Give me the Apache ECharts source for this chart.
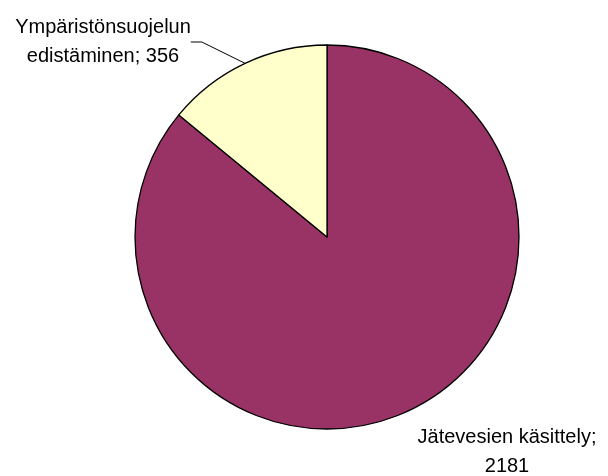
<!DOCTYPE html>
<html>
<head>
<meta charset="utf-8">
<script src="https://cdn.jsdelivr.net/npm/echarts@6/dist/echarts.min.js"></script>
<style>
  html, body { margin: 0; padding: 0; background: #fff; }
  #piechart { width: 608px; height: 476px; }
</style>
</head>
<body>
<div id="piechart"></div>
<script>
  var categories = ['Jätevesien käsittely', 'Ympäristönsuojelun\nedistäminen'];
  var values = [2181, 356];
  var pieColor = ['#993366', '#FFFFCC'];

  var pieData = categories.map(function (name, i) {
    return {
      name: name,
      value: values[i],
      labelLine: { show: i === 1 }
    };
  });

  var chart = echarts.init(document.getElementById('piechart'));
  var option = {
    animation: false,
    color: pieColor,
    series: [
      {
        type: 'pie',
        radius: 192,
        center: [327, 237],
        startAngle: 90,
        clockwise: true,
        itemStyle: { borderColor: '#000', borderWidth: 1.3 },
        label: {
          show: true,
          position: 'outside',
          formatter: function (p) {
            return p.dataIndex === 0 ? p.name + ';\n' + p.value : p.name + '; ' + p.value;
          },
          fontFamily: 'Liberation Sans, Arial, sans-serif',
          fontSize: 20,
          lineHeight: 29,
          color: '#000',
          align: 'center',
          overflow: 'none'
        },
        labelLine: { show: true, length: 42, length2: 11, lineStyle: { color: '#000', width: 1 } },
        labelLayout: function (p) {
          if (p.dataIndex === 0) {
            return { x: 507, y: 452, align: 'center', verticalAlign: 'middle' };
          }
          return { x: 103, y: 42, align: 'center', verticalAlign: 'middle' };
        },
        emphasis: { disabled: true },
        data: pieData
      }
    ]
  };
  chart.setOption(option);
</script>
</body>
</html>
